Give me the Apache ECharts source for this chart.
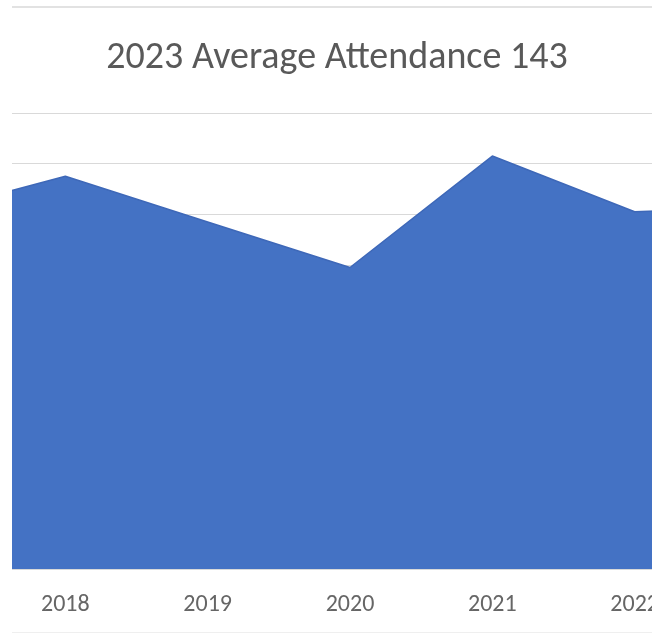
<!DOCTYPE html>
<html>
<head>
<meta charset="utf-8">
<script src="https://cdn.jsdelivr.net/npm/echarts@6/dist/echarts.min.js"></script>
<style>
  html, body { margin: 0; padding: 0; background: #fff; }
  #clip { position: absolute; left: 12px; top: 6px; width: 640px; height: 627px; overflow: hidden; background: #fff;
          border-top: 2px solid #e2e2e2; border-bottom: 1px solid #efefef; box-sizing: border-box; }
  #chart { position: absolute; left: -132px; top: -6px; width: 914px; height: 635px; }
</style>
</head>
<body>
<div id="clip"><div id="chart"></div></div>
<script>
// Years (2017 and 2023 lie just outside the visible crop)
const years = ['2017', '2018', '2019', '2020', '2021', '2022', '2023'];
// Average attendance per year
const attendance = [140, 155, 137, 119, 163, 141, 143];
const titleText = '2023 Average Attendance 143';
const yMin = 0, yMax = 180, yStep = 20;

const chart = echarts.init(document.getElementById('chart'), null, { renderer: 'canvas' });
chart.setOption({
  animation: false,
  backgroundColor: '#fff',
  title: {
    text: titleText,
    left: 'center',
    top: 32,
    textStyle: { fontFamily: 'Carlito, "Open Sans", sans-serif', fontSize: 38, fontWeight: 'normal', color: '#595959' }
  },
  grid: { left: 43, right: 17, top: 111, bottom: 68, containLabel: false, outerBoundsMode: 'none' },
  xAxis: {
    type: 'category',
    data: years,
    boundaryGap: false,
    axisLine: { show: true, lineStyle: { color: '#d9d9d9', width: 1 } },
    axisTick: { show: false },
    axisLabel: { margin: 24, fontSize: 24, color: '#666666', fontFamily: 'Carlito, "Open Sans", sans-serif' },
    splitLine: { show: false }
  },
  yAxis: {
    type: 'value',
    min: yMin, max: yMax, interval: yStep,
    axisLine: { show: false }, axisTick: { show: false }, axisLabel: { show: false },
    splitLine: { show: true, lineStyle: { color: '#d9d9d9', width: 1 } }
  },
  series: [{
    type: 'line',
    data: attendance,
    symbol: 'none',
    lineStyle: { width: 1.5, color: '#3e68b8' },
    areaStyle: { color: '#4472c4', opacity: 1 },
    itemStyle: { color: '#4472c4' }
  }]
});
</script>
</body>
</html>
